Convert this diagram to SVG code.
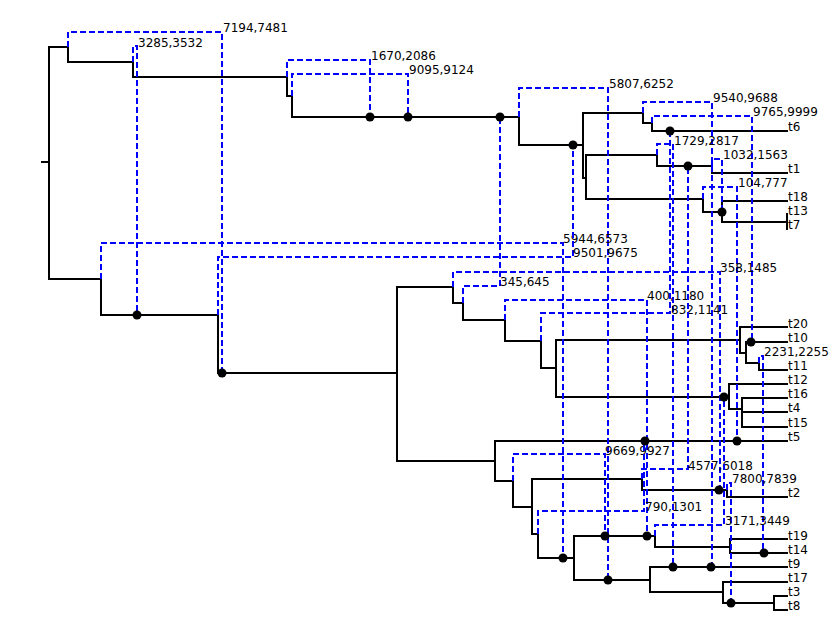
<svg xmlns="http://www.w3.org/2000/svg" width="830" height="642" viewBox="0 0 830 642">
<style>
.e{fill:none;stroke:#000;stroke-width:2;stroke-linecap:square}
.r{fill:none;stroke:#0000ff;stroke-width:2;stroke-dasharray:6,3}
.d{fill:#000}
text{font-family:"DejaVu Sans",sans-serif;font-size:12px;fill:#000}
</style>
<rect width="830" height="642" fill="#fff"/>
<g id="edges">
<path class="e" d="M42,162H49M49,47V279M49,47H68V62H133V77H287V96H292V117H519V145H583M583,113V178M583,113H643V123H652V131H787M583,178H586M586,155V199M586,155H657V166H712V173H787M586,199H703V212H722M722,201V222M722,201H787M722,222H787M787,214V229"/>
<path class="e" d="M49,279H101V315H218V373H397M397,287V461M397,287H453V303H463V320H505V341H541V368H556M556,340V397M556,340H740M740,327V353M740,327H787M740,353H746M746,342V363M746,342H787M746,363H759V370H787M556,397H729M729,384V409M729,384H787M729,409H742M742,398V427M742,398H787M742,412H787M742,427H787"/>
<path class="e" d="M397,461H495M495,441V481M495,441H787M495,481H513V507H532M532,479V534M532,479H642V490H727V497H787M532,534H538V558H574M574,536V580M574,536H655V547H730M730,539V553M730,539H787M730,553H787M574,580H650M650,567V592M650,567H787M650,592H723M723,582V603M723,582H787M723,603H774M774,596V610M774,596H787M774,610H787"/>
</g>
<g id="reticulations">
<g id="r7194"><path class="r" d="M68,47V32H222V373"/><text x="223" y="32">7194,7481</text></g>
<g id="r3285"><path class="r" d="M133,62V46H137V315"/><text x="138" y="47">3285,3532</text></g>
<g id="r1670"><path class="r" d="M287,77V60H370V117"/><text x="371" y="60">1670,2086</text></g>
<g id="r9095"><path class="r" d="M292,96V74H408V117"/><text x="409" y="74">9095,9124</text></g>
<g id="r5807"><path class="r" d="M519,117V88H608V580"/><text x="609" y="88">5807,6252</text></g>
<g id="r9540"><path class="r" d="M643,113V102H712V567"/><text x="713" y="102">9540,9688</text></g>
<g id="r9765"><path class="r" d="M652,123V116H752V342"/><text x="753" y="116">9765,9999</text></g>
<g id="r1729"><path class="r" d="M657,155V144H673V567"/><text x="674" y="145">1729,2817</text></g>
<g id="r1032"><path class="r" d="M712,166V159H722V212"/><text x="723" y="159">1032,1563</text></g>
<g id="r104"><path class="r" d="M703,199V187H737V441"/><text x="738" y="187">104,777</text></g>
<g id="r5944"><path class="r" d="M101,279V243H563V558"/><text x="563" y="243">5944,6573</text></g>
<g id="r9501"><path class="r" d="M218,315V257H573V145"/><text x="573" y="257">9501,9675</text></g>
<g id="r345"><path class="r" d="M463,303V286H500V117"/><text x="500" y="286">345,645</text></g>
<g id="r358"><path class="r" d="M453,287V272H720V490"/><text x="720" y="272">358,1485</text></g>
<g id="r400"><path class="r" d="M505,320V300H647V536"/><text x="647" y="300">400,1180</text></g>
<g id="r832"><path class="r" d="M541,341V313H670V131"/><text x="671" y="314">832,1141</text></g>
<g id="r2231"><path class="r" d="M759,363V356H763V553"/><text x="764" y="356">2231,2255</text></g>
<g id="r9669"><path class="r" d="M513,481V454H605V536"/><text x="605" y="455">9669,9927</text></g>
<g id="r4577"><path class="r" d="M642,479V469H688V166"/><text x="688" y="470">4577,6018</text></g>
<g id="r7800"><path class="r" d="M727,490V483H731V603"/><text x="732" y="483">7800,7839</text></g>
<g id="r790"><path class="r" d="M538,534V511H644V440"/><text x="645" y="511">790,1301</text></g>
<g id="r3171"><path class="r" d="M655,536V525H724V397"/><text x="725" y="525">3171,3449</text></g>
</g>
<g id="hybrid-nodes">
<g id="h1"><circle class="d" cx="137" cy="315" r="4.5"/></g>
<g id="h2"><circle class="d" cx="222" cy="373" r="4.5"/></g>
<g id="h3"><circle class="d" cx="370" cy="117" r="4.5"/></g>
<g id="h4"><circle class="d" cx="408" cy="117" r="4.5"/></g>
<g id="h5"><circle class="d" cx="500" cy="117" r="4.5"/></g>
<g id="h6"><circle class="d" cx="573" cy="145" r="4.5"/></g>
<g id="h7"><circle class="d" cx="670" cy="131" r="4.5"/></g>
<g id="h8"><circle class="d" cx="688" cy="166" r="4.5"/></g>
<g id="h9"><circle class="d" cx="722" cy="212" r="4.5"/></g>
<g id="h10"><circle class="d" cx="751" cy="342" r="4.5"/></g>
<g id="h11"><circle class="d" cx="724" cy="397" r="4.5"/></g>
<g id="h12"><circle class="d" cx="645" cy="441" r="4.5"/></g>
<g id="h13"><circle class="d" cx="737" cy="441" r="4.5"/></g>
<g id="h14"><circle class="d" cx="719" cy="490" r="4.5"/></g>
<g id="h15"><circle class="d" cx="605" cy="536" r="4.5"/></g>
<g id="h16"><circle class="d" cx="647" cy="536" r="4.5"/></g>
<g id="h17"><circle class="d" cx="764" cy="553" r="4.5"/></g>
<g id="h18"><circle class="d" cx="563" cy="558" r="4.5"/></g>
<g id="h19"><circle class="d" cx="673" cy="567" r="4.5"/></g>
<g id="h20"><circle class="d" cx="711" cy="567" r="4.5"/></g>
<g id="h21"><circle class="d" cx="608" cy="580" r="4.5"/></g>
<g id="h22"><circle class="d" cx="731" cy="603" r="4.5"/></g>
</g>
<g id="leaves">
<g id="t6"><text x="788" y="131">t6</text></g>
<g id="t1"><text x="788" y="173">t1</text></g>
<g id="t18"><text x="788" y="201">t18</text></g>
<g id="t13"><text x="788" y="215">t13</text></g>
<g id="t7"><text x="788" y="229">t7</text></g>
<g id="t20"><text x="788" y="328">t20</text></g>
<g id="t10"><text x="788" y="342">t10</text></g>
<g id="t11"><text x="788" y="370">t11</text></g>
<g id="t12"><text x="788" y="384">t12</text></g>
<g id="t16"><text x="788" y="398">t16</text></g>
<g id="t4"><text x="788" y="412">t4</text></g>
<g id="t15"><text x="788" y="427">t15</text></g>
<g id="t5"><text x="788" y="441">t5</text></g>
<g id="t2"><text x="788" y="497">t2</text></g>
<g id="t19"><text x="788" y="540">t19</text></g>
<g id="t14"><text x="788" y="554">t14</text></g>
<g id="t9"><text x="788" y="568">t9</text></g>
<g id="t17"><text x="788" y="582">t17</text></g>
<g id="t3"><text x="788" y="596">t3</text></g>
<g id="t8"><text x="788" y="610">t8</text></g>
</g>
</svg>
